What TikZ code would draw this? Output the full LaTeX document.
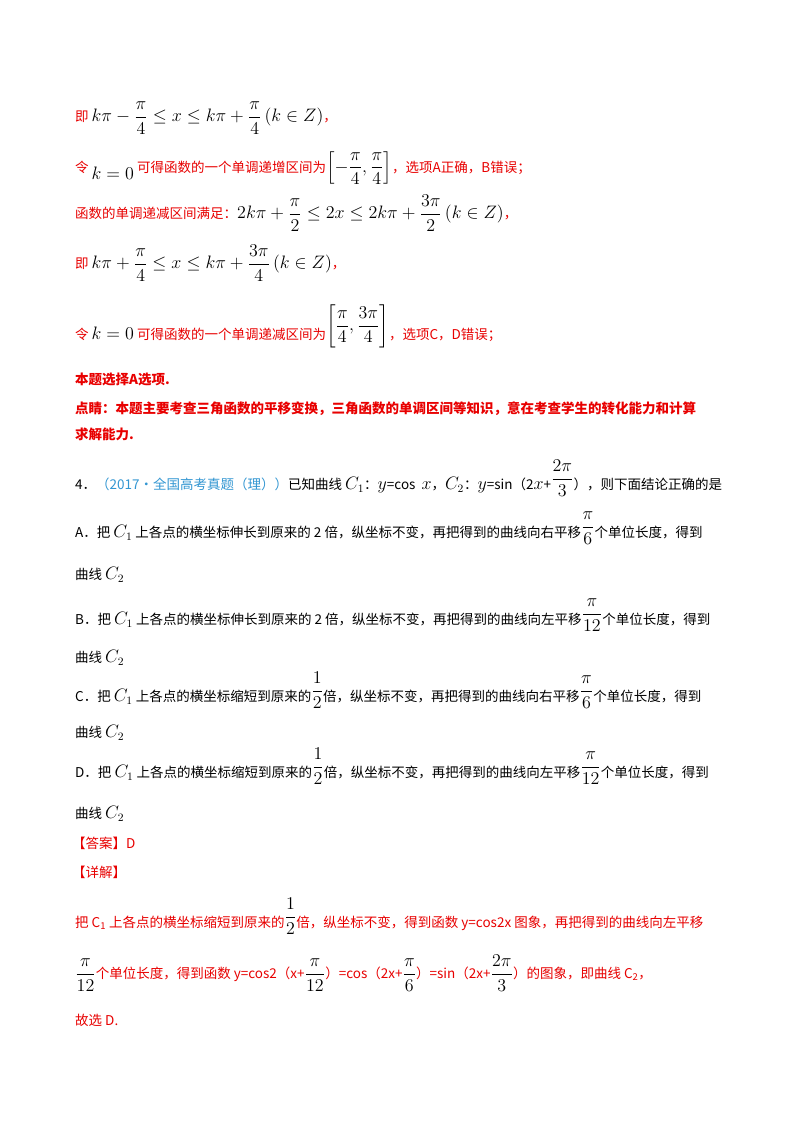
\documentclass[tikz,border=0pt]{standalone}
\usepackage{amsmath}
\usepackage{graphicx}
\usepackage{fontspec}
\setmainfont{Noto Sans CJK SC}
\definecolor{rd}{RGB}{232,0,0}
\definecolor{bl}{RGB}{50,150,210}
\newcommand{\fr}[2]{\displaystyle\frac{#1}{#2}}
\newcommand{\M}[1]{\scalebox{1.25}{$#1$}}
\begin{document}
\begin{tikzpicture}[x=1pt,y=-1pt,
  ln/.style={anchor=west,inner sep=0pt,font=\fontsize{13.5}{16}\selectfont},
  r/.style={ln,text=rd}]
\useasboundingbox[fill=white] (0,0) rectangle (800,1132);
\node[r] (l1) at (75,118) {即 \textcolor{black}{\M{k\pi-\fr{\pi}{4}\le x\le k\pi+\fr{\pi}{4}\left(k\in Z\right)}}，};
\node[r] (l2) at (75,168) {令 \raisebox{-7pt}{\textcolor{black}{\M{k=0}}} 可得函数的一个单调递增区间为\textcolor{black}{\M{\left[-\fr{\pi}{4},\fr{\pi}{4}\right]}}，选项A正确，B错误；};
\node[r] (l3) at (75,213) {函数的单调递减区间满足：\textcolor{black}{\M{2k\pi+\fr{\pi}{2}\le 2x\le 2k\pi+\fr{3\pi}{2}\left(k\in Z\right)}}，};
\node[r] (l4) at (75,263) {即 \textcolor{black}{\M{k\pi+\fr{\pi}{4}\le x\le k\pi+\fr{3\pi}{4}\left(k\in Z\right)}}，};
\node[r] (l5) at (75,326) {令 \textcolor{black}{\M{k=0}} 可得函数的一个单调递减区间为\raisebox{9pt}{\textcolor{black}{\M{\left[\fr{\pi}{4},\fr{3\pi}{4}\right]}}}，选项C，D错误；};
\node[r,font=\fontsize{13.5}{16}\bfseries] (l6) at (75,379) {本题选择A选项.};
\node[r,font=\fontsize{13.5}{16}\bfseries] (l7) at (75,409) {点睛：本题主要考查三角函数的平移变换，三角函数的单调区间等知识，意在考查学生的转化能力和计算};
\node[r,font=\fontsize{13.5}{16}\bfseries] (l8) at (75,434) {求解能力.};
\node[ln] (q) at (75,478) {4．\textcolor{bl}{（2017·全国高考真题（理））}已知曲线 \M{C_1}：\M{y}=cos\ \ \M{x}，\M{C_2}：\M{y}=sin（2\M{x}+\raisebox{6pt}{\M{\fr{2\pi}{3}}}），则下面结论正确的是};
\node[ln] (a1) at (75,528) {A．把 \M{C_1} 上各点的横坐标伸长到原来的 2 倍，纵坐标不变，再把得到的曲线向右平移\raisebox{6pt}{\M{\fr{\pi}{6}}}个单位长度，得到};
\node[ln] (a2) at (75,575) {曲线 \M{C_2}};
\node[ln] (b1) at (75,615) {B．把 \M{C_1} 上各点的横坐标伸长到原来的 2 倍，纵坐标不变，再把得到的曲线向左平移\raisebox{6pt}{\M{\fr{\pi}{12}}}个单位长度，得到};
\node[ln] (b2) at (75,658) {曲线 \M{C_2}};
\node[ln] (c1) at (75,690) {C．把 \M{C_1} 上各点的横坐标缩短到原来的\raisebox{6pt}{\M{\fr{1}{2}}}倍，纵坐标不变，再把得到的曲线向右平移\raisebox{6pt}{\M{\fr{\pi}{6}}}个单位长度，得到};
\node[ln] (c2) at (75,733) {曲线 \M{C_2}};
\node[ln] (d1) at (75,766) {D．把 \M{C_1} 上各点的横坐标缩短到原来的\raisebox{6pt}{\M{\fr{1}{2}}}倍，纵坐标不变，再把得到的曲线向左平移\raisebox{6pt}{\M{\fr{\pi}{12}}}个单位长度，得到};
\node[ln] (d2) at (75,814) {曲线 \M{C_2}};
\node[r] (ans) at (72,843) {【答案】D};
\node[r] (det) at (72,872) {【详解】};
\node[r] (e1) at (75,916) {把 C\textsubscript{1} 上各点的横坐标缩短到原来的\raisebox{6pt}{\textcolor{black}{\M{\fr{1}{2}}}}倍，纵坐标不变，得到函数 y=cos2x 图象，再把得到的曲线向左平移};
\node[r] (e2) at (75,973) {\textcolor{black}{\M{\fr{\pi}{12}}}个单位长度，得到函数 y=cos2（x+\textcolor{black}{\M{\fr{\pi}{12}}}）=cos（2x+\textcolor{black}{\M{\fr{\pi}{6}}}）=sin（2x+\textcolor{black}{\M{\fr{2\pi}{3}}}）的图象，即曲线 C\textsubscript{2}，};
\node[r] (e3) at (75,1020) {故选 D.};
\end{tikzpicture}
\end{document}
